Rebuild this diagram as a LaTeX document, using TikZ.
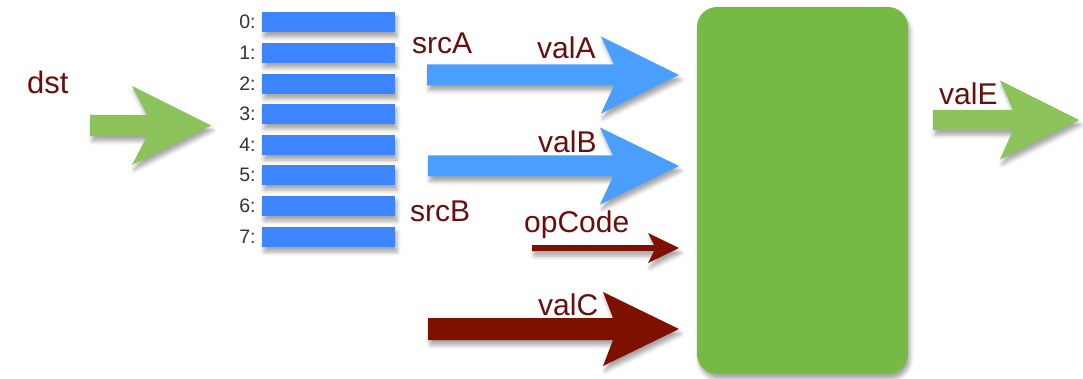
\documentclass[tikz,border=0pt]{standalone}
\usepackage{fontspec}
\setmainfont{Liberation Sans}
\usetikzlibrary{shadows.blur}

\definecolor{regblue}{HTML}{3D85FE}
\definecolor{busblue}{HTML}{4A9FFC}
\definecolor{alugreen}{HTML}{77BA43}
\definecolor{ligreen}{HTML}{8CC35A}
\definecolor{ctlred}{HTML}{7E1000}
\definecolor{labelred}{HTML}{6A0E0C}

% block arrow with swept-back head:
% colour, x start, x where body meets head, x of head corners, x of tip, y of axis, half body, half head
\newcommand\blockarrow[8]{%
  \fill[#1, softshadow]
    (#2,#6-#7) -- (#3,#6-#7) -- (#4,#6-#8) -- (#5,#6)
    -- (#4,#6+#8) -- (#3,#6+#7) -- (#2,#6+#7) -- cycle;}

\begin{document}
\begin{tikzpicture}[x=1pt, y=-1pt,
  softshadow/.style={blur shadow={shadow xshift=2pt, shadow yshift=-5pt,
      shadow blur radius=4pt, shadow opacity=35}},
  regbox/.style={fill=regblue, minimum width=133pt, minimum height=20pt,
      inner sep=0pt, softshadow},
  reglabel/.style={anchor=east, inner sep=0pt, text=black!80,
      font=\fontsize{19.5}{19.5}\selectfont},
  busname/.style={anchor=base west, inner sep=0pt, text=labelred,
      font=\fontsize{30}{30}\selectfont},
  alubox/.style={fill=alugreen, minimum width=211pt, minimum height=367pt,
      rounded corners=20pt, inner sep=0pt, softshadow}]

\useasboundingbox (0,0) rectangle (1083,379);

% register file
\foreach \i/\t in {0/12,1/43,2/74,3/104,4/135,5/165,6/196,7/227}{
  \node[regbox] (r\i) at (328.5,\t+10) {};
  \node[reglabel] (l\i) at ([xshift=-6pt]r\i.west) {\i:};
}

% ALU
\node[alubox] (alu) at (802.5,190.5) {};

% buses
\blockarrow{ligreen}{90}{147}{132}{211}{125.5}{10.5}{39.5}
\blockarrow{busblue}{427}{614}{601}{679}{75}{10.5}{38.5}
\blockarrow{busblue}{428}{613}{600}{679}{166}{10.5}{38.5}
\blockarrow{ctlred}{532}{654}{648}{679}{248}{3}{15}
\blockarrow{ctlred}{428}{613}{603}{679}{329}{11}{37}
\blockarrow{ligreen}{933}{1013}{1000}{1079}{120}{10}{39.5}

% labels
\node[busname, font=\fontsize{31}{31}\selectfont] (dst) at (27,94) {dst};
\node[busname] (srcA) at (412,54) {srcA};
\node[busname] (srcB) at (410,222) {srcB};
\node[busname] (valA) at (537,59) {valA};
\node[busname] (valB) at (538,153) {valB};
\node[busname] (opCode) at (524,233) {opCode};
\node[busname] (valC) at (538,315) {valC};
\node[busname] (valE) at (939,105) {valE};

\end{tikzpicture}
\end{document}
